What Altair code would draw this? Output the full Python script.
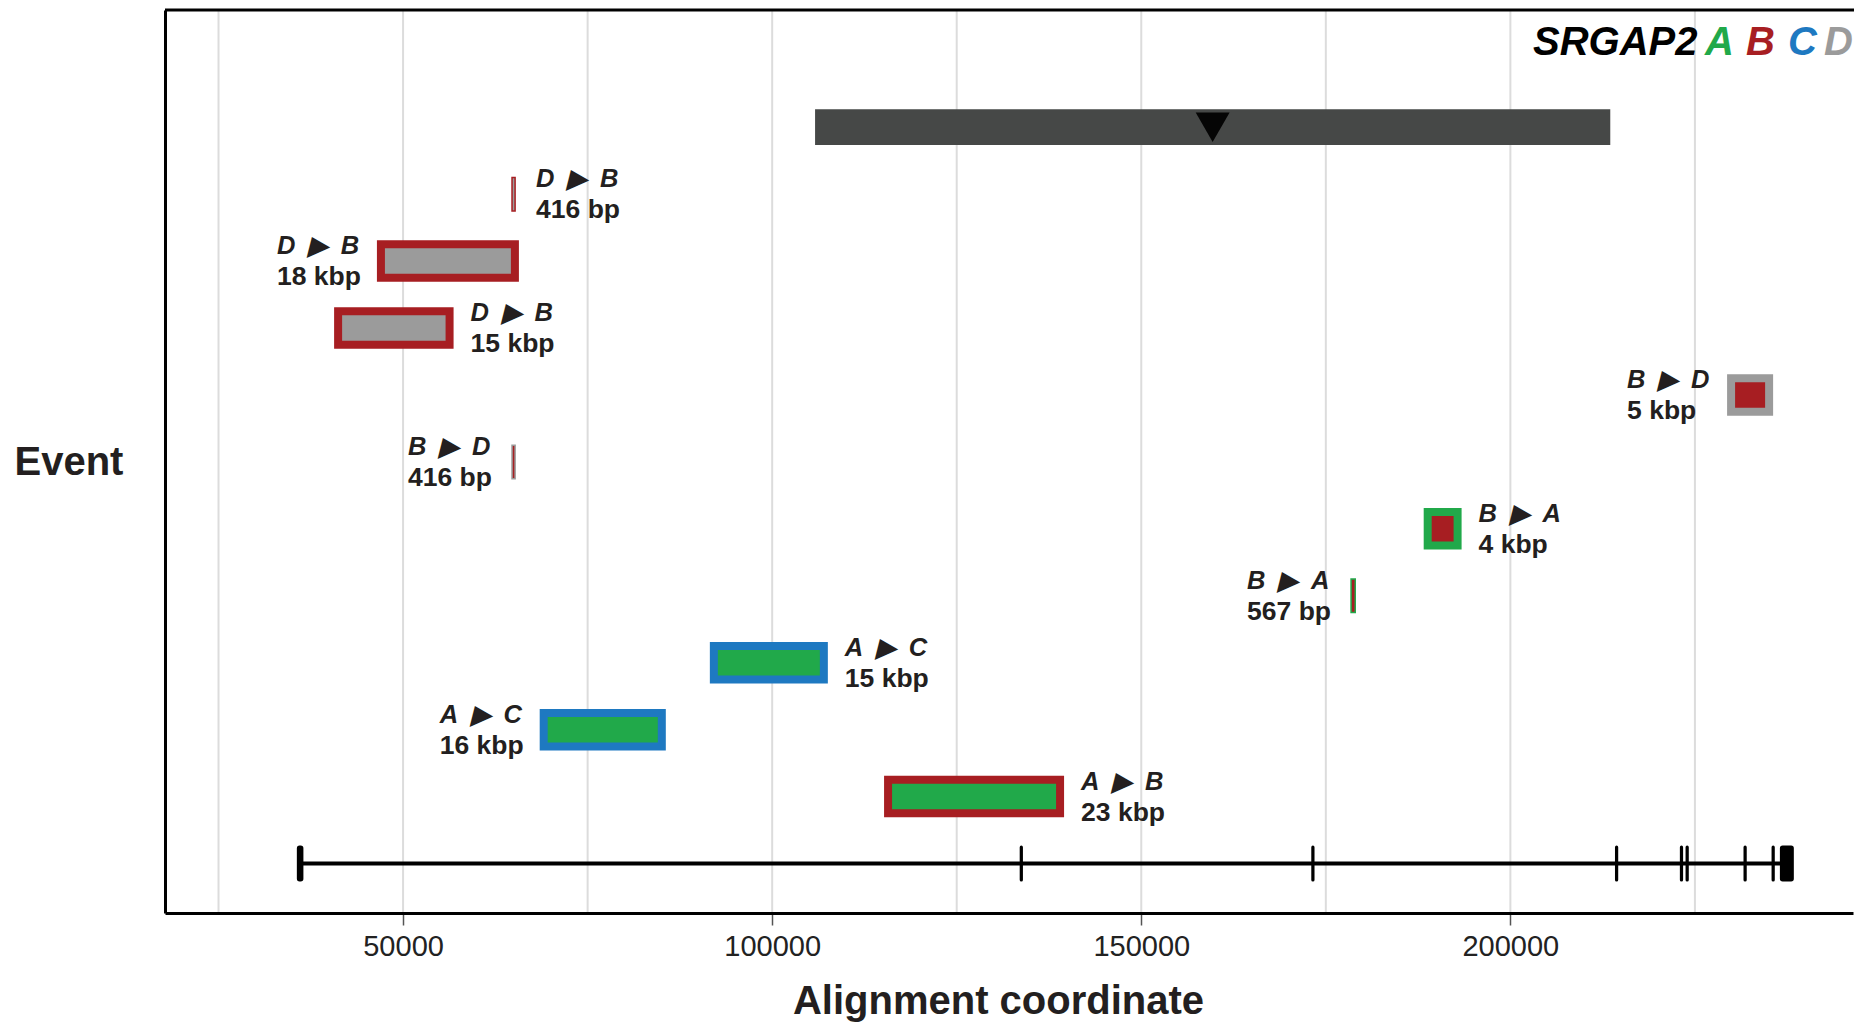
import altair as alt
import pandas as pd

# ---- data ----
event_row = [2, 3, 4, 5, 6, 7, 8, 9, 10, 11]
event_from = ["D", "D", "D", "B", "B", "B", "B", "A", "A", "A"]
event_to = ["B", "B", "B", "D", "D", "A", "A", "C", "C", "B"]
event_start = [64760, 47000, 41200, 229900, 64760, 188800, 178420, 92100, 69050, 115700]
event_end = [65176, 65150, 56300, 235050, 65176, 192850, 178987, 107000, 85050, 139000]
event_size = ["416 bp", "18 kbp", "15 kbp", "5 kbp", "416 bp", "4 kbp", "567 bp", "15 kbp", "16 kbp", "23 kbp"]
event_side = ["right", "left", "right", "left", "left", "right", "left", "right", "left", "right"]

region_row = [1]
region_start = [105811]
region_end = [213533]
marker_pos = [159670]

gene_row = [12]
gene_start = [36000]
gene_end = [237500]
exon_start = [35780, 133700, 173200, 214340, 223130, 223900, 231750, 235550, 236680]
exon_end = [36330, 133800, 173300, 214440, 223230, 224000, 231850, 235650, 238230]

grid_values = [25000, 50000, 75000, 100000, 125000, 150000, 175000, 200000, 225000]
tick_values = [50000, 100000, 150000, 200000]

paralogs = ["A", "B", "C", "D"]
paralog_colors = ["#21A94A", "#A71E22", "#1E79C1", "#9B9B9B"]

# ---- tables ----
events = pd.DataFrame({
    "row": event_row, "from": event_from, "to": event_to,
    "start": event_start, "end": event_end, "size": event_size, "side": event_side,
})
events["arrow"] = events["from"] + "\u2002\u25B6\u2002" + events["to"]
region = pd.DataFrame({"row": region_row, "start": region_start, "end": region_end, "mid": marker_pos})
gene = pd.DataFrame({"row": gene_row * 1, "start": gene_start, "end": gene_end})
exons = pd.DataFrame({"row": gene_row * len(exon_start), "start": exon_start, "end": exon_end})
grid = pd.DataFrame({"g": grid_values})
one = pd.DataFrame({"a": [0]})

W, H = 1688, 903
FONT = "Liberation Sans"
TXT = "#231F20"

xscale = alt.Scale(domain=[17750, 246414], nice=False, zero=False)
yscale = alt.Scale(domain=[-0.751, 12.739], reverse=True, nice=False, zero=False)
colscale = alt.Scale(domain=paralogs, range=paralog_colors)

xax = alt.Axis(values=tick_values, grid=False, domainColor="black", domainWidth=3,
               tickColor="#555555", tickWidth=1.5, tickSize=12, labelFont=FONT,
               labelFontSize=29, labelColor="#222222", labelPadding=7, format="d",
               labelFlush=False, labelOverlap=False,
               title="Alignment coordinate", titleFont=FONT, titleFontSize=40,
               titleFontWeight="bold", titleColor=TXT, titleX=833, titleY=100,
               titleBaseline="alphabetic", titleAlign="center", zindex=2)
yax = alt.Axis(title="Event", labels=False, ticks=False, grid=False, domainColor="black",
               domainWidth=3, titleAngle=0, titleX=-151, titleY=464, titleAlign="left",
               titleBaseline="alphabetic", titleFont=FONT, titleFontSize=40,
               titleFontWeight="bold", titleColor=TXT, zindex=2)


def X(f):
    return alt.X(f, scale=xscale, axis=xax)


def Y(f):
    return alt.Y(f, scale=yscale, axis=yax)


grid_layer = alt.Chart(grid).mark_rule(color="#dcdcdc", strokeWidth=2).encode(x=X("g:Q"))

region_layer = alt.Chart(region).transform_calculate(
    y0="datum.row - 0.267", y1="datum.row + 0.267"
).mark_rect(color="#464847").encode(x=X("start:Q"), x2="end:Q", y=Y("y0:Q"), y2="y1:Q")

marker_layer = alt.Chart(region).mark_point(
    shape="triangle-down", filled=True, size=1150, color="#050505", opacity=1
).encode(x=X("mid:Q"), y=Y("row:Q"))

event_layer = alt.Chart(events).transform_calculate(
    y0="datum.row - 0.25", y1="datum.row + 0.25"
).mark_rect().encode(
    x=X("start:Q"), x2="end:Q", y=Y("y0:Q"), y2="y1:Q",
    fill=alt.Fill("from:N", scale=colscale, legend=None),
    stroke=alt.Stroke("to:N", scale=colscale, legend=None),
    strokeWidth=alt.condition("datum.end - datum.start > 1000", alt.value(8), alt.value(1.5)),
)


def labels(side, field, dx, dy, text, italic, size):
    return alt.Chart(events).transform_filter(f"datum.side == '{side}'").mark_text(
        align="left", baseline="alphabetic", dx=dx, dy=dy, font=FONT, fontSize=size,
        fontWeight="bold", fontStyle="italic" if italic else "normal", color=TXT,
    ).encode(x=X(field), y=Y("row:Q"), text=text)


label_layers = [
    labels("right", "end:Q", 21, -7, "arrow:N", True, 25.5),
    labels("right", "end:Q", 21, 24, "size:N", False, 26.5),
    labels("left", "start:Q", -104, -7, "arrow:N", True, 25.5),
    labels("left", "start:Q", -104, 24, "size:N", False, 26.5),
]

backbone = alt.Chart(gene).mark_rule(color="black", strokeWidth=4).encode(
    x=X("start:Q"), x2="end:Q", y=Y("row:Q"))
exon_layer = alt.Chart(exons).transform_calculate(
    y0="datum.row - 0.25", y1="datum.row + 0.25"
).mark_rect(color="black", stroke="black", strokeWidth=2.5, cornerRadius=1.5).encode(
    x=X("start:Q"), x2="end:Q", y=Y("y0:Q"), y2="y1:Q")

top_border = alt.Chart(one).mark_rule(color="black", strokeWidth=3).encode(
    x=alt.value(0), x2=alt.value(W + 1), y=alt.value(0))

legend_parts = [("SRGAP2", "black", 1368)] + [
    (p, c, x) for p, c, x in zip(paralogs, paralog_colors, [1540, 1581, 1623, 1659])
]
legend_layers = [
    alt.Chart(one).mark_text(align="left", baseline="alphabetic", font=FONT, fontSize=40,
                             fontWeight="bold", fontStyle="italic", color=c).encode(
        x=alt.value(x), y=alt.value(45), text=alt.value(t))
    for t, c, x in legend_parts
]

chart = alt.layer(
    grid_layer, region_layer, marker_layer, event_layer, *label_layers,
    backbone, exon_layer, top_border, *legend_layers,
).properties(
    width=W, height=H,
    padding={"left": 157, "top": 2, "right": 1, "bottom": 109},
    autosize=alt.AutoSizeParams(type="none"),
).configure_view(stroke="transparent")

chart.save("out.html", embed_options={"renderer": "svg", "actions": False})
